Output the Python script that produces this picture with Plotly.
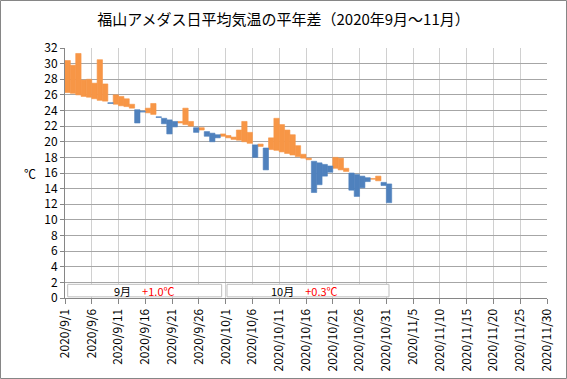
import pandas as pd
import plotly.graph_objects as go

# Categories: daily dates (2020/9/1 - 2020/10/31)
dates = pd.date_range("2020-09-01", "2020-10-31", freq="D")

actual = [
    30.4, 29.8, 31.3, 27.9, 28.0, 27.5, 30.5, 27.4, 24.9, 26.0,
    25.8, 25.5, 24.8, 22.4, 23.8, 24.3, 24.9, 23.1, 22.3, 21.0,
    21.9, 22.6, 24.3, 22.6, 21.2, 21.8, 20.7, 20.0, 20.5, 21.0,
    20.8, 20.6, 21.5, 22.6, 21.2, 18.0, 19.7, 16.4, 20.5, 23.0,
    22.2, 21.5, 20.9, 19.5, 18.4, 17.9, 13.5, 14.5, 15.6, 16.1,
    18.0, 17.9, 16.6, 13.8, 13.0, 14.1, 14.9, 15.3, 15.6, 14.4,
    12.2,
]

# Daily normal values
normal = [
    26.3, 26.2, 26.0, 25.8, 25.7, 25.5, 25.3, 25.2, 25.0, 24.8,
    24.6, 24.5, 24.3, 24.1, 23.9, 23.7, 23.5, 23.2, 23.0, 22.8,
    22.6, 22.4, 22.2, 22.0, 21.8, 21.5, 21.3, 21.1, 20.9, 20.7,
    20.5, 20.3, 20.2, 20.0, 19.8, 19.6, 19.4, 19.2, 19.0, 18.9,
    18.7, 18.5, 18.3, 18.1, 17.9, 17.7, 17.5, 17.3, 17.1, 16.9,
    16.6, 16.4, 16.2, 16.0, 15.8, 15.6, 15.4, 15.2, 15.0, 14.8,
    14.6,
]

# Monthly summaries
months = ["9月", "10月"]
month_anom = ["+1.0℃", "+0.3℃"]

title = "福山アメダス日平均気温の平年差（2020年9月～11月）"

DAY = 86400000
FONT = "Noto Sans CJK JP"
ORANGE = "#F79646"
BLUE = "#4F81BD"

diff = [a - n for a, n in zip(actual, normal)]
pos = [d if d >= 0 else None for d in diff]
neg = [d if d < 0 else None for d in diff]

fig = go.Figure()
fig.add_trace(go.Bar(x=dates, y=pos, base=normal, width=DAY, offset=0,
                     marker=dict(color=ORANGE, line=dict(width=0.6, color=ORANGE)),
                     showlegend=False, hoverinfo="skip"))
fig.add_trace(go.Bar(x=dates, y=neg, base=normal, width=DAY, offset=0,
                     marker=dict(color=BLUE, line=dict(width=0.6, color=BLUE)),
                     showlegend=False, hoverinfo="skip"))

# month boxes
box_x = [("2020-09-01 12:00", "2020-09-30 06:00"), ("2020-10-01 06:00", "2020-10-31 12:00")]
text_x = ["2020-09-15 18:00", "2020-10-15 18:00"]
for (x0, x1), tx, m, a in zip(box_x, text_x, months, month_anom):
    fig.add_shape(type="rect", xref="x", yref="y", x0=x0, x1=x1, y0=0.15, y1=1.75,
                  fillcolor="white", line=dict(color="#BFBFBF", width=1), layer="above")
    fig.add_annotation(x=tx, y=0.95, xref="x", yref="y", showarrow=False,
                       text=f"{m}　<span style='color:#FF0000'>{a}</span>",
                       font=dict(family=FONT, size=11, color="black"))

# outer frame
fig.add_shape(type="rect", xref="paper", yref="paper",
              x0=(0.5 - 65) / 482, x1=(566.5 - 65) / 482,
              y0=(298 - 378.5) / 250, y1=(298 - 0.5) / 250,
              line=dict(color="#868686", width=1), fillcolor="rgba(0,0,0,0)", layer="below")

fig.add_annotation(xref="paper", yref="paper", x=(22 - 65) / 482, y=(298 - 173) / 250,
                   text="℃", showarrow=False, font=dict(family=FONT, size=12, color="black"))

fig.update_layout(
    width=567, height=379,
    margin=dict(l=65, r=20, t=48, b=81),
    paper_bgcolor="white", plot_bgcolor="white",
    title=dict(text=title, x=0.5, xanchor="center", y=1 - 20 / 379, yanchor="middle",
               font=dict(family=FONT, size=15, color="black")),
    barmode="overlay", bargap=0,
    font=dict(family=FONT, size=12, color="black"),
)
fig.update_xaxes(
    type="date", range=["2020-09-01", "2020-11-30"], automargin=False,
    tick0="2020-09-01", dtick=5 * DAY, tickformat="%Y/%-m/%-d", tickangle=-90,
    showgrid=True, gridcolor="#D0D0D0", gridwidth=1,
    showline=True, linecolor="#868686", linewidth=1,
    ticks="outside", ticklen=5, tickcolor="#868686",
    tickfont=dict(family=FONT, size=12, color="black"),
    zeroline=False,
)
fig.update_yaxes(
    range=[0, 32], dtick=2, tick0=0, automargin=False,
    showgrid=True, gridcolor="#A6A6A6", gridwidth=1,
    showline=True, linecolor="#868686", linewidth=1,
    ticks="outside", ticklen=4, tickcolor="#868686",
    tickfont=dict(family=FONT, size=12, color="black"),
    zeroline=False,
)

fig.write_html(
    "out.html",
    config={"displayModeBar": False, "staticPlot": True},
    post_script="document.body.style.margin='0';document.body.style.overflow='hidden';",
)
